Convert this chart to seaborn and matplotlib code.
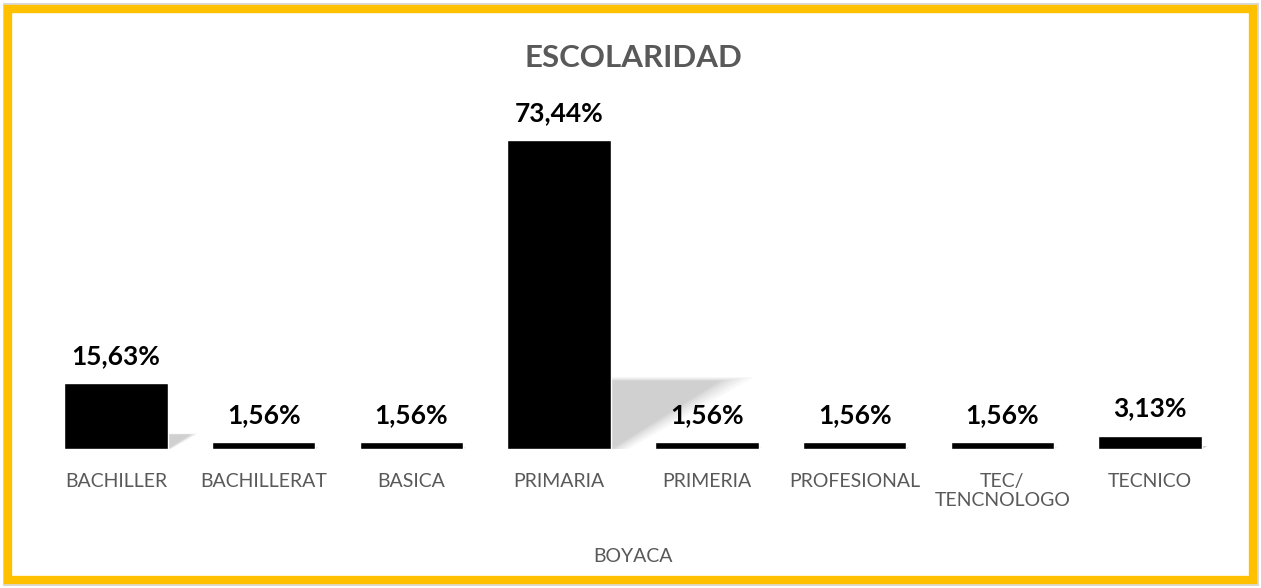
import matplotlib
matplotlib.use("Agg")
import matplotlib.pyplot as plt
import seaborn as sns
from matplotlib.patches import Rectangle, Polygon

# data
categories = ['BACHILLER', 'BACHILLERAT', 'BASICA', 'PRIMARIA', 'PRIMERIA',
              'PROFESIONAL', 'TEC/\nTENCNOLOGO', 'TECNICO']
values = [15.63, 1.56, 1.56, 73.44, 1.56, 1.56, 1.56, 3.13]
labels = ['15,63%', '1,56%', '1,56%', '73,44%', '1,56%', '1,56%', '1,56%', '3,13%']

sns.set_style('white')
plt.rcParams['font.family'] = ['Lato', 'DejaVu Sans']

W, H = 1261, 588
fig = plt.figure(figsize=(W / 100, H / 100), dpi=100)
ax = fig.add_axes([42 / W, 1 - 449 / H, (1224 - 42) / W, 336.6 / H])

bar_w = 0.7
# soft shadow behind each bar (skewed copy, blurred by stacking)
for i, v in enumerate(values):
    left, right = i - bar_w / 2, i + bar_w / 2
    kv, sv = 0.0099 * v, 0.22 * v
    scale = v / max(values)
    for g in [0.24, 0.19, 0.15, 0.11, 0.08, 0.05, 0.03, 0.01]:
        grow = g * scale
        poly = Polygon([(left, 0), (right + grow * 0.5, 0),
                        (right + kv + grow, sv + grow * 4),
                        (left + kv - grow, sv + grow * 4)],
                       closed=True, facecolor='#7f7f7f', edgecolor='none',
                       alpha=0.05, zorder=1)
        ax.add_patch(poly)

sns.barplot(x=categories, y=values, color='black', width=bar_w, ax=ax,
            saturation=1, zorder=3)
for p in ax.patches:
    if isinstance(p, Rectangle):
        p.set_zorder(3)

ax.bar_label(ax.containers[0], labels=labels, padding=11, fontsize=19,
             fontweight='bold', color='black')

ax.set_xlim(-0.5, 7.5)
ax.set_ylim(0, 80)
ax.set_yticks([])
for s in ax.spines.values():
    s.set_visible(False)
ax.tick_params(axis='x', length=0, pad=17, labelsize=14, labelcolor='#595959')
ax.set_xlabel('BOYACA', fontsize=14, color='#595959')
ax.xaxis.label.set_va('center')
ax.xaxis.set_label_coords(0.5, (449 - 556) / 336.6)
ax.set_ylabel('')

fig.text(633 / W, 1 - 58 / H, 'ESCOLARIDAD', ha='center', va='center',
         fontsize=22.5, fontweight='bold', color='#595959')

# frame: thin grey outline + yellow border
fig.patches.append(Rectangle((3.5 / W, 3.5 / H), (W - 7) / W, (H - 7) / H,
                             transform=fig.transFigure, fill=False,
                             edgecolor='#d9d9d9', linewidth=1.5, zorder=0))
fig.patches.append(Rectangle((8 / W, 8.5 / H), (W - 16) / W, (H - 17) / H,
                             transform=fig.transFigure, fill=False,
                             edgecolor='#FFC000', linewidth=6, zorder=0))

fig.savefig('out.png', dpi=100)
